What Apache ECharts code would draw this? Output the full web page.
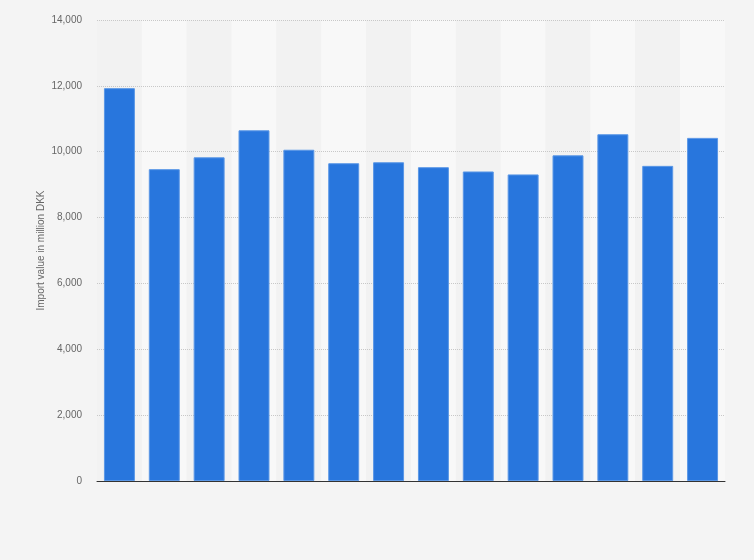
<!DOCTYPE html>
<html>
<head>
<meta charset="utf-8">
<script src="https://cdn.jsdelivr.net/npm/echarts@6/dist/echarts.min.js"></script>
<style>
  html, body { margin: 0; padding: 0; background: #f4f4f4; }
  #chart { width: 754px; height: 560px; }
</style>
</head>
<body>
<div id="chart"></div>
<script>
let categories = ["2008", "2009", "2010", "2011", "2012", "2013", "2014", "2015", "2016", "2017", "2018", "2019", "2020", "2021"];
let importValues = [11930, 9470, 9830, 10650, 10060, 9650, 9680, 9530, 9400, 9310, 9890, 10530, 9570, 10420];
let yTicks = [0, 2000, 4000, 6000, 8000, 10000, 12000, 14000];

let myChart = echarts.init(document.getElementById("chart"));
let option = {
  backgroundColor: "#f4f4f4",
  animation: false,
  textStyle: { fontFamily: "Liberation Sans, Arial, sans-serif" },
  grid: { left: 97, right: 29, top: 20, bottom: 79 },
  xAxis: {
    type: "category",
    data: categories,
    z: 0,
    axisLine: { lineStyle: { color: "#333333", width: 1 } },
    axisTick: { show: false },
    axisLabel: { show: false },
    splitArea: {
      show: true,
      areaStyle: { color: ["#f2f2f2", "#f8f8f8"] }
    }
  },
  yAxis: {
    type: "value",
    z: 1,
    min: yTicks[0],
    max: yTicks[yTicks.length - 1],
    interval: 2000,
    name: "Import value in million DKK",
    nameLocation: "middle",
    nameGap: 51,
    nameMoveOverlap: false,
    nameTextStyle: { color: "#666666", fontSize: 10 },
    axisLine: { show: false },
    axisTick: { show: false },
    axisLabel: {
      color: "#666666",
      fontSize: 10,
      margin: 15,
      formatter: function (v) {
        return v.toLocaleString("en-US");
      }
    },
    splitLine: {
      showMinLine: false,
      lineStyle: { color: "#c8c8c8", type: [1, 1], width: 1 }
    }
  },
  series: [
    {
      type: "bar",
      z: 2,
      data: importValues,
      barCategoryGap: "31%",
      itemStyle: {
        color: "#2876dd",
        borderColor: "#5a97e6",
        borderWidth: 1
      }
    }
  ]
};
myChart.setOption(option);
</script>
</body>
</html>
